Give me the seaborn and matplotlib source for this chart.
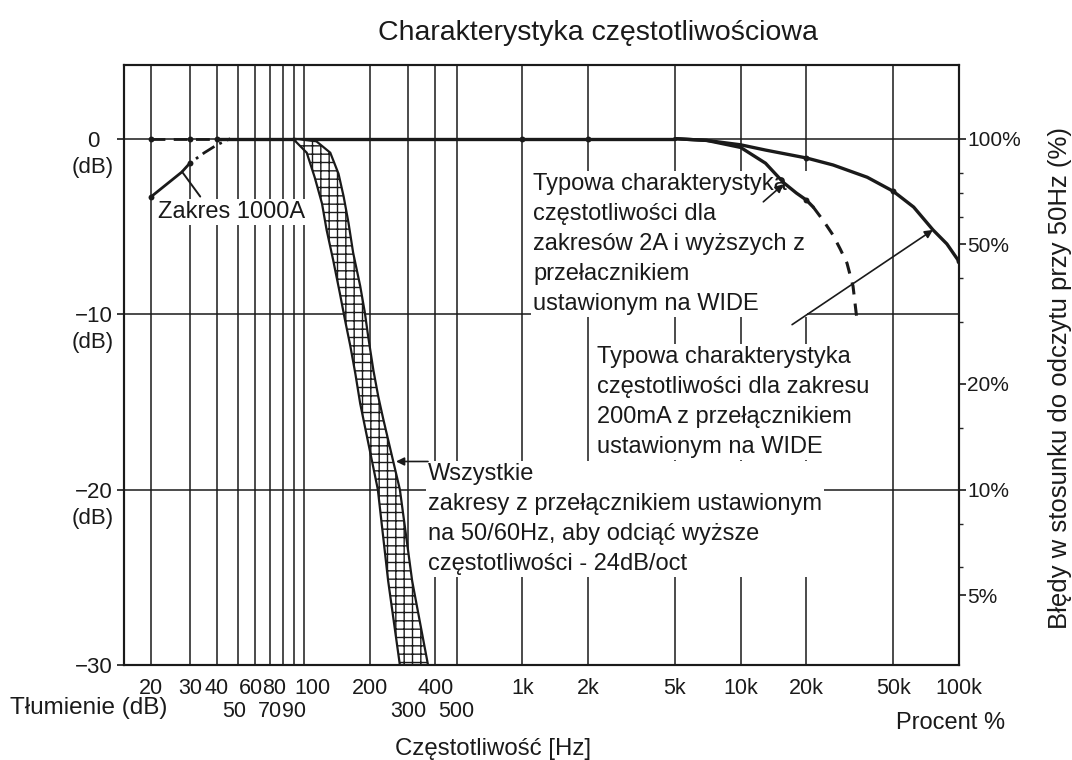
import numpy as np
import matplotlib
matplotlib.use('Agg')
import matplotlib.pyplot as plt
import matplotlib.transforms as mtransforms
import seaborn as sns

# grid and tick values
grid_freqs = [20, 30, 40, 50, 60, 70, 80, 90, 100, 200, 300, 400, 500,
              1000, 2000, 5000, 10000, 20000, 50000]
grid_db = [0, -10, -20]

row1_ticks = [20, 30, 40, 60, 80, 100, 200, 400, 1000, 2000, 5000, 10000, 20000, 50000, 100000]
row1_labels = ['20', '30', '40', '60', '80', '100', '200', '400', '1k', '2k', '5k', '10k', '20k', '50k', '100k']
row2_ticks = [50, 70, 90, 300, 500]
row2_labels = ['50', '70', '90', '300', '500']

db_ticks = [0, -10, -20, -30]
db_labels = ['0', '\u221210', '\u221220', '\u221230']
db_units = [0, -10, -20]

pct_major = [100, 50, 20, 10, 5]
pct_minor = [80, 70, 60, 40, 30, 15, 8, 6]

# curves (Hz, dB)
flat_lo_f = [20, 30, 40]
flat_lo_db = [0, 0, 0]
flat_f = [40, 100, 200, 500, 1000, 2000, 5000]
flat_db = [0, 0, 0, 0, 0, 0, 0]

wide_2a_f = [5000, 7000, 10000, 13000, 20000, 26500, 38000, 50000, 62000, 76000, 88000, 100000]
wide_2a_db = [0, -0.1, -0.35, -0.65, -1.1, -1.5, -2.2, -3.0, -3.9, -5.2, -6.0, -7.0]

wide_200ma_f = [5000, 7000, 10000, 13000, 15700, 18000, 20000, 21500]
wide_200ma_db = [0, -0.1, -0.5, -1.4, -2.5, -3.1, -3.5, -3.9]
wide_200ma_dash_f = [21500, 24000, 26500, 28600, 30700, 32700, 34000]
wide_200ma_dash_db = [-3.9, -4.7, -5.5, -6.3, -7.1, -8.4, -10.2]

r1000_f = [20, 27.6]
r1000_db = [-3.3, -1.9]
r1000_dash_f = [27.6, 30, 35, 40, 46]
r1000_dash_db = [-1.9, -1.4, -0.8, -0.35, 0]

band_left_f = [89, 103, 112, 121, 127, 136, 146, 154, 163, 172, 181, 218, 243, 275]
band_left_db = [0, -0.8, -2.2, -3.7, -5.2, -6.9, -8.8, -10.3, -11.8, -13.4, -15.1, -20, -25.2, -30]
band_right_f = [114, 132, 144, 152, 160, 168, 181, 190, 197, 208, 219, 231, 275, 313, 370]
band_right_db = [-0.15, -0.8, -2.0, -3.3, -4.8, -6.5, -8.4, -9.9, -11.3, -13.2, -14.7, -16.0, -20, -25.2, -30]

dot_f = [20, 30, 40, 1000, 2000, 20000, 50000, 100000, 20, 30, 20000]
dot_db = [0, 0, 0, 0, 0, -1.1, -3.0, -7.0, -3.3, -1.4, -3.5]

# label nudges in pixels, as the scanned original places them
label_shift = {'60': -5, '80': -9, '100': 9, '50': -4}

sns.set_theme(style='white')
plt.rcParams['font.family'] = ['Liberation Sans', 'DejaVu Sans']
plt.rcParams['hatch.linewidth'] = 1.0
ink = '#1a1a1a'

fig = plt.figure(figsize=(10.72, 7.6), dpi=100)
ax = fig.add_axes([0.1157, 0.125, 0.7789, 0.7895])
ax.set_xscale('log')

for f in grid_freqs:
    ax.axvline(f, color=ink, lw=1.1, zorder=1)
for d in grid_db:
    ax.axhline(d, color=ink, lw=1.1, zorder=1)

line_kw = dict(color=ink, estimator=None, sort=False, ax=ax, zorder=3)
sns.lineplot(x=flat_lo_f, y=flat_lo_db, lw=2.0, linestyle=(0, (5, 3)), **line_kw)
sns.lineplot(x=flat_f, y=flat_db, lw=2.4, **line_kw)
sns.lineplot(x=wide_2a_f, y=wide_2a_db, lw=2.4, **line_kw)
sns.lineplot(x=wide_200ma_f, y=wide_200ma_db, lw=2.4, **line_kw)
sns.lineplot(x=wide_200ma_dash_f, y=wide_200ma_dash_db, lw=2.2, linestyle=(0, (4, 3)), **line_kw)
sns.lineplot(x=r1000_f, y=r1000_db, lw=2.0, **line_kw)
sns.lineplot(x=r1000_dash_f, y=r1000_dash_db, lw=2.0, linestyle=(0, (5, 2, 1, 2)), **line_kw)
sns.scatterplot(x=dot_f, y=dot_db, color=ink, s=18, ax=ax, zorder=4, linewidth=0)

band_x = band_left_f + band_right_f[::-1]
band_y = band_left_db + band_right_db[::-1]
ax.fill(band_x, band_y, facecolor='white', edgecolor=ink, hatch='++', linewidth=1.6, zorder=3)

ax.set_xlim(15, 100000)
ax.set_ylim(-30, 4.2)
for s in ax.spines.values():
    s.set_color(ink)
    s.set_linewidth(1.5)

ax.set_xticks(row1_ticks, row1_labels)
ax.set_xticks(row2_ticks, row2_labels, minor=True)
ax.tick_params(axis='x', which='major', length=0, pad=9, labelsize=15.5, colors=ink)
ax.tick_params(axis='x', which='minor', length=0, pad=26, labelsize=15.5, colors=ink)
for lab in ax.get_xticklabels() + ax.get_xticklabels(minor=True):
    dx = label_shift.get(lab.get_text(), 0)
    if dx:
        lab.set_transform(lab.get_transform() + mtransforms.ScaledTranslation(dx / 100, 0, fig.dpi_scale_trans))

ax.set_yticks(db_ticks, db_labels)
ax.tick_params(axis='y', which='major', length=5, width=1.2, pad=17, labelsize=16, colors=ink)
for lab in ax.get_yticklabels():
    lab.set_horizontalalignment('center')
for d in db_units:
    ax.annotate('(dB)', xy=(0, d), xycoords=('axes fraction', 'data'), xytext=(-22.5, -20.5),
                textcoords='offset points', ha='center', va='center', fontsize=16, color=ink)

ax2 = ax.twinx()
ax2.set_ylim(ax.get_ylim())
ax2.set_yticks([20 * np.log10(p / 100) for p in pct_major], [f'{p}%' for p in pct_major])
ax2.set_yticks([20 * np.log10(p / 100) for p in pct_minor], minor=True)
ax2.tick_params(axis='y', which='major', length=5, width=1.2, pad=1, labelsize=15, colors=ink)
ax2.tick_params(axis='y', which='minor', length=3, width=1.0, right=True)
for s in ax2.spines.values():
    s.set_color(ink)
    s.set_linewidth(1.5)

# annotations
box = dict(facecolor='white', edgecolor='none', pad=1.5)
txt_kw = dict(fontsize=17, color=ink, ha='left', va='center', linespacing=1.47, bbox=box, zorder=2.6)
ax.text(21.5, -4.2, 'Zakres 1000A', **txt_kw)
ax.text(1121, -6.0, 'Typowa charakterystyka\nczęstotliwości dla\nzakresów 2A i wyższych z\n'
        'przełacznikiem\nustawionym na WIDE', **txt_kw)
ax.text(2201, -15.0, 'Typowa charakterystyka\nczęstotliwości dla zakresu\n200mA z przełącznikiem\n'
        'ustawionym na WIDE', **txt_kw)
ax.text(370, -21.7, 'Wszystkie\nzakresy z przełącznikiem ustawionym\nna 50/60Hz, aby odciąć wyższe\n'
        'częstotliwości - 24dB/oct', **txt_kw)

arrow_kw = dict(arrowstyle='-|>', color=ink, lw=1.2, mutation_scale=12, shrinkA=0, shrinkB=0)
ax.annotate('', xy=(27.9, -1.95), xytext=(33.5, -3.3),
            arrowprops=dict(arrowstyle='-', color=ink, lw=1.4, shrinkA=0, shrinkB=0), zorder=4)
ax.annotate('', xy=(15700, -2.6), xytext=(12700, -3.6), arrowprops=arrow_kw, zorder=4)
ax.annotate('', xy=(76000, -5.2), xytext=(17200, -10.6), arrowprops=arrow_kw, zorder=4)
ax.annotate('', xy=(264, -18.4), xytext=(370, -18.4), arrowprops=arrow_kw, zorder=4)

fig.text(0.558, 0.957, 'Charakterystyka częstotliwościowa', ha='center', va='center', fontsize=20.5, color=ink)
fig.text(0.009, 1 - 708 / 760, 'Tłumienie (dB)', ha='left', va='center', fontsize=17.5, color=ink)
fig.text(1005 / 1072, 1 - 723 / 760, 'Procent %', ha='right', va='center', fontsize=17, color=ink)
fig.text(493 / 1072, 1 - 749 / 760, 'Częstotliwość [Hz]', ha='center', va='center', fontsize=17.3, color=ink)
fig.text(0.989, 0.503, 'Błędy w stosunku do odczytu przy 50Hz (%)', rotation=90,
         ha='center', va='center', fontsize=18.5, color=ink)

fig.savefig('out.png', dpi=100, facecolor='white')
